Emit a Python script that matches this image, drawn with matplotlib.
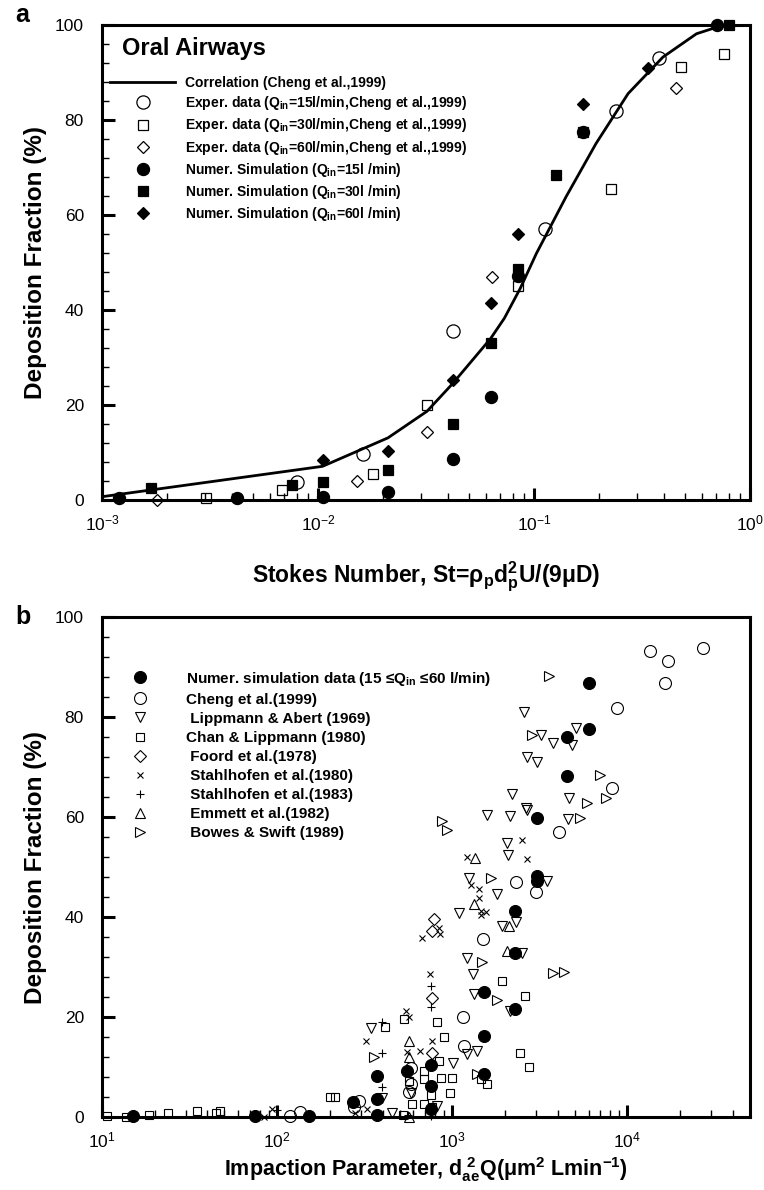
import numpy as np
import matplotlib
matplotlib.use("Agg")
import matplotlib.pyplot as plt
from matplotlib.ticker import LogLocator, MultipleLocator

plt.rcParams['font.family'] = ['Liberation Sans', 'DejaVu Sans']

# ---------------- panel a : Stokes number vs deposition fraction ----------------
corr_st = [0.001, 0.0105, 0.0211, 0.032, 0.042, 0.063, 0.073, 0.0865, 0.1026, 0.141, 0.194, 0.273, 0.396, 0.566, 0.726, 1.0]
corr_df = [0.7, 7.1, 13.1, 18.7, 24.5, 34.0, 38.3, 44.6, 51.9, 63.9, 75.1, 85.6, 93.3, 98.2, 99.8, 100.0]

exp15_st = [0.00798, 0.0161, 0.0421, 0.113, 0.241, 0.38]
exp15_df = [3.8, 9.7, 35.5, 57.0, 82.0, 93.2]
exp30_st = [0.00302, 0.00684, 0.018, 0.0321, 0.084, 0.227, 0.482, 0.76]
exp30_df = [0.5, 2.2, 5.4, 20.1, 45.1, 65.6, 91.2, 94.0]
exp60_st = [0.00179, 0.0151, 0.0321, 0.064, 0.169, 0.454]
exp60_df = [0.0, 4.0, 14.3, 47.0, 77.5, 86.8]

num15_st = [0.0012, 0.00422, 0.0105, 0.0211, 0.0421, 0.063, 0.084, 0.169, 0.706]
num15_df = [0.5, 0.5, 0.7, 1.75, 8.7, 21.7, 47.2, 77.5, 100.0]
num30_st = [0.00168, 0.00758, 0.0105, 0.0211, 0.0421, 0.063, 0.084, 0.126, 0.169, 0.80]
num30_df = [2.45, 3.1, 3.8, 6.4, 16.1, 33.0, 48.6, 68.4, 77.5, 100.0]
num60_st = [0.0105, 0.0211, 0.0421, 0.063, 0.084, 0.169, 0.338]
num60_df = [8.5, 10.4, 25.2, 41.4, 56.0, 83.5, 91.0]

# ---------------- panel b : impaction parameter vs deposition fraction ----------------
numer_x = [15, 74.5, 152, 272, 373, 373, 373, 548, 752, 752, 752, 1517, 1517, 1517,
           2270, 2270, 2270, 3033, 3033, 3033, 4500, 4500, 6040, 6040]
numer_y = [0.3, 0.3, 0.3, 3.0, 8.3, 3.7, 0.5, 9.3, 10.5, 6.2, 1.7, 25.1, 16.2, 8.7,
           41.3, 32.9, 21.7, 59.9, 48.3, 47.2, 76.1, 68.2, 86.9, 77.7]

cheng_x = [119, 135, 293, 274, 565, 578, 578, 1156, 1166, 1503, 2300, 3020, 4070,
           8130, 8690, 13480, 17150, 16340, 27170]
cheng_y = [0.3, 1.0, 3.3, 2.1, 5.1, 6.6, 9.8, 20.1, 14.3, 35.6, 47.0, 45.0, 57.0,
           65.9, 81.9, 93.2, 91.2, 86.9, 93.9]

lipp_x = [345, 398, 454, 578, 821, 1013, 1218, 1378, 2137, 1330, 1318, 1207, 2512, 1931,
          2300, 1092, 1807, 1245, 3490, 2080, 2044, 1571, 2137, 2625, 2660, 4560, 4620,
          2200, 2683, 3060, 3200, 3775, 2570, 5070, 4850]
lipp_y = [17.8, 3.8, 0.9, 4.8, 2.3, 10.8, 12.6, 13.3, 21.2, 24.7, 28.7, 31.9, 32.9, 38.3,
          39.0, 40.9, 44.7, 47.9, 47.2, 52.5, 54.9, 60.4, 60.2, 61.8, 61.5, 59.7, 63.9,
          64.6, 72.1, 71.1, 76.4, 74.8, 81.0, 77.8, 74.4]

chan_x = [10.7, 13.8, 18.6, 23.8, 34.9, 44.8, 47.4, 200, 215, 415, 529, 821, 896, 839,
          689, 858, 1000, 689, 565, 970, 752, 689, 590, 770, 1452, 1585, 525, 1931, 2589,
          2436, 2741]
chan_y = [0.3, 0.1, 0.4, 0.9, 1.2, 0.9, 1.2, 4.0, 4.0, 18.0, 19.7, 19.0, 16.0, 11.2,
          9.3, 7.8, 7.8, 7.6, 7.3, 4.8, 4.4, 2.6, 2.6, 2.1, 7.6, 6.7, 0.5, 27.2, 24.2,
          12.8, 10.0]

foord_x = [785, 769, 769, 769]
foord_y = [39.7, 37.2, 23.8, 12.8]

stahl80_x = [84, 94, 280, 324, 320, 541, 565, 553, 653, 674, 745, 769, 839, 851, 1218,
             1273, 1420, 1420, 1452, 1549, 1452, 2513, 2661]
stahl80_y = [0.1, 1.6, 0.9, 1.7, 15.3, 21.2, 20.0, 13.1, 13.3, 35.9, 28.7, 15.3, 37.8,
             36.6, 52.0, 46.5, 45.6, 43.8, 41.3, 41.1, 40.4, 55.4, 51.6]

stahl83_x = [100, 398, 398, 398, 558, 752, 752, 752]
stahl83_y = [1.4, 19.0, 12.8, 6.0, 0.5, 26.2, 22.1, 0.3]

emmett_x = [565, 565, 565, 1342, 1330, 2108, 2044]
emmett_y = [15.3, 12.1, 0.1, 51.8, 42.6, 38.3, 33.3]

bowes_x = [357, 1377, 1484, 1792, 1671, 877, 929, 2865, 3565, 3777, 4345, 5370, 5860,
           6980, 7520]
bowes_y = [12.1, 8.7, 31.1, 23.4, 47.8, 59.3, 57.5, 76.4, 88.2, 28.8, 29.0, 59.9, 62.9,
           68.4, 63.9]


def style_axes(ax, xlim):
    ax.set_xscale('log')
    ax.set_xlim(*xlim)
    ax.set_ylim(0, 100)
    ax.yaxis.set_major_locator(MultipleLocator(20))
    ax.yaxis.set_minor_locator(MultipleLocator(4))
    ax.xaxis.set_major_locator(LogLocator(base=10, numticks=10))
    ax.xaxis.set_minor_locator(LogLocator(base=10, subs=np.arange(2, 10), numticks=20))
    ax.tick_params(which='both', direction='in', top=False, right=False, labelsize=12.5)
    ax.tick_params(axis='x', which='major', pad=10)
    ax.tick_params(axis='y', which='major', pad=13)
    ax.tick_params(which='major', length=9, width=2.2)
    ax.tick_params(which='minor', length=5, width=1.0)
    for sp in ax.spines.values():
        sp.set_linewidth(2.2)
    ax.set_ylabel('Deposition Fraction (%)', fontsize=17.5, fontweight='bold', labelpad=6)


fig = plt.figure(figsize=(7.64, 11.90), dpi=100)
ax1 = fig.add_axes([0.1335, 0.5798, 0.848, 0.399])
ax2 = fig.add_axes([0.1335, 0.0613, 0.848, 0.420])

# ---- panel a
kw = dict(linestyle='none', clip_on=False, zorder=3, markeredgecolor='black', markeredgewidth=0.9)
ax1.plot(corr_st, corr_df, color='black', lw=2.0, label='Correlation (Cheng et al.,1999)', zorder=2)
ax1.plot(exp15_st, exp15_df, marker='o', ms=9.5, mfc='none',
         label=r'Exper. data (Q$_{\mathdefault{in}}$=15l/min,Cheng et al.,1999)', **kw)
ax1.plot(exp30_st, exp30_df, marker='s', ms=6.5, mfc='none',
         label=r'Exper. data (Q$_{\mathdefault{in}}$=30l/min,Cheng et al.,1999)', **kw)
ax1.plot(exp60_st, exp60_df, marker='D', ms=6.6, mfc='none',
         label=r'Exper. data (Q$_{\mathdefault{in}}$=60l/min,Cheng et al.,1999)', **kw)
ax1.plot(num15_st, num15_df, marker='o', ms=8.7, mfc='black',
         label=r'Numer. Simulation (Q$_{\mathdefault{in}}$=15l /min)', **kw)
ax1.plot(num30_st, num30_df, marker='s', ms=6.7, mfc='black',
         label=r'Numer. Simulation (Q$_{\mathdefault{in}}$=30l /min)', **kw)
ax1.plot(num60_st, num60_df, marker='D', ms=6.1, mfc='black',
         label=r'Numer. Simulation (Q$_{\mathdefault{in}}$=60l /min)', **kw)
style_axes(ax1, (1e-3, 1.0))
ax1.set_xlabel(r'Stokes Number, St=ρ$_{\mathdefault{p}}$d$_{\mathdefault{p}}^{\mathdefault{2}}$U/(9μD)',
               fontsize=16.5, fontweight='bold', labelpad=19)
ax1.text(0.031, 0.952, 'Oral Airways', transform=ax1.transAxes, fontsize=17,
         fontweight='bold', va='center', ha='left')
ax1.legend(loc='upper left', bbox_to_anchor=(0.0123, 0.893), frameon=False,
           prop={'weight': 'bold', 'size': 10}, handlelength=4.7, handletextpad=0.72,
           labelspacing=0.3, borderpad=0, borderaxespad=0)

# ---- panel b
kw2 = dict(linestyle='none', clip_on=False, zorder=3, markeredgecolor='black', markeredgewidth=0.8)
ax2.plot(numer_x, numer_y, marker='o', ms=8.6, mfc='black',
         label=r'Numer. simulation data (15 ≤Q$_{\mathdefault{in}}$ ≤60 l/min)', **kw2)
ax2.plot(cheng_x, cheng_y, marker='o', ms=8.6, mfc='none', label='Cheng et al.(1999)', **kw2)
ax2.plot(lipp_x, lipp_y, marker='v', ms=7.2, mfc='none', label=' Lippmann & Abert (1969)', **kw2)
ax2.plot(chan_x, chan_y, marker='s', ms=6.2, mfc='none', label='Chan & Lippmann (1980)', **kw2)
ax2.plot(foord_x, foord_y, marker='D', ms=6.2, mfc='none', label=' Foord et al.(1978)', **kw2)
ax2.plot(stahl80_x, stahl80_y, marker='x', ms=4.8, label=' Stahlhofen et al.(1980)', **kw2)
ax2.plot(stahl83_x, stahl83_y, marker='+', ms=6.4, label=' Stahlhofen et al.(1983)', **kw2)
ax2.plot(emmett_x, emmett_y, marker='^', ms=7.2, mfc='none', label=' Emmett et al.(1982)', **kw2)
ax2.plot(bowes_x, bowes_y, marker='>', ms=7.2, mfc='none', label=' Bowes & Swift (1989)', **kw2)
style_axes(ax2, (10, 5e4))
ax2.set_xlabel(r'Impaction Parameter, d$_{\mathdefault{ae}}^{\ \mathdefault{2}}$Q(μm$^{\mathdefault{2}}$ Lmin$^{\mathdefault{-1}}$)',
               fontsize=15.5, fontweight='bold', labelpad=3)
ax2.legend(loc='upper left', bbox_to_anchor=(0.041, 0.895), frameon=False,
           prop={'weight': 'bold', 'size': 11}, handlelength=1.5, handletextpad=2.25,
           labelspacing=0.33, borderpad=0, borderaxespad=0)

fig.text(15 / 764, 1 - 15 / 1190, 'a', fontsize=18, fontweight='bold', va='center', ha='left')
fig.text(15 / 764, 1 - 617 / 1190, 'b', fontsize=18, fontweight='bold', va='center', ha='left')

fig.savefig('out.png', dpi=100)
